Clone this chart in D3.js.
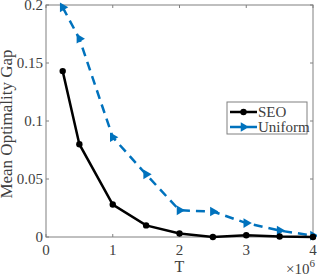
<!DOCTYPE html>
<html>
<head>
<meta charset="utf-8">
<script src="https://cdn.jsdelivr.net/npm/d3@7"></script>
<style>
  body { margin: 0; background: #fff; }
</style>
</head>
<body>
<div id="chart"></div>
<script>
var svgWidth = 317;
var svgHeight = 277;

var margin = { top: 5, right: 4, bottom: 40, left: 46 };
var width = svgWidth - margin.left - margin.right;
var height = svgHeight - margin.top - margin.bottom;

// data (T in units of 1e6)
var tValues = [0.25, 0.5, 1, 1.5, 2, 2.5, 3, 3.5, 4];
var seoGap = [0.143, 0.080, 0.028, 0.010, 0.003, 0.000, 0.0015, 0.0004, 0.000];
var uniformGap = [0.198, 0.171, 0.086, 0.054, 0.023, 0.022, 0.012, 0.0055, 0.0012];
var xTicks = [0, 1, 2, 3, 4];
var yTicks = [0, 0.05, 0.1, 0.15, 0.2];

var serif = "'Liberation Serif', serif";

var svg = d3.select("#chart")
  .append("svg")
  .attr("width", svgWidth)
  .attr("height", svgHeight);

var chartGroup = svg.append("g")
  .attr("transform", `translate(${margin.left}, ${margin.top})`);

var xScale = d3.scaleLinear().domain([0, 4]).range([0, width]);
var yScale = d3.scaleLinear().domain([0, 0.2]).range([height, 0]);

var axisColor = "#808080";
var textColor = "#404040";

// small helper so every label gets the serif face inline
function addText(parent, size) {
  return parent.append("text")
    .style("font-family", serif)
    .attr("font-size", size)
    .attr("fill", textColor);
}

// box
chartGroup.append("rect")
  .attr("width", width)
  .attr("height", height)
  .attr("fill", "none")
  .attr("stroke", axisColor)
  .attr("stroke-width", 1);

// ticks (inward) on all four sides
xTicks.forEach(function (t) {
  var x = xScale(t);
  chartGroup.append("line").attr("x1", x).attr("x2", x).attr("y1", height).attr("y2", height - 3).attr("stroke", axisColor);
  chartGroup.append("line").attr("x1", x).attr("x2", x).attr("y1", 0).attr("y2", 3).attr("stroke", axisColor);
  addText(chartGroup, 15)
    .attr("x", x)
    .attr("y", height + 18)
    .attr("text-anchor", "middle")
    .text(t);
});

yTicks.forEach(function (t) {
  var y = yScale(t);
  chartGroup.append("line").attr("x1", 0).attr("x2", 3).attr("y1", y).attr("y2", y).attr("stroke", axisColor);
  chartGroup.append("line").attr("x1", width).attr("x2", width - 3).attr("y1", y).attr("y2", y).attr("stroke", axisColor);
  addText(chartGroup, 15)
    .attr("x", -3)
    .attr("y", y + 5)
    .attr("text-anchor", "end")
    .text(t);
});

// axis labels
addText(chartGroup, 16)
  .attr("x", width / 2)
  .attr("y", height + 35)
  .attr("text-anchor", "middle")
  .text("T");

var expLabel = addText(chartGroup, 15)
  .attr("x", width + 2)
  .attr("y", height + 37)
  .attr("text-anchor", "end");
expLabel.append("tspan").text("×10");
expLabel.append("tspan").attr("dy", -7).attr("font-size", 11).text("6");

addText(chartGroup, 17)
  .attr("transform", `translate(${-34}, ${height / 2 + 3}) rotate(-90)`)
  .attr("text-anchor", "middle")
  .text("Mean Optimality Gap");

// lines
var blue = "#0072BD";

var gapLine = d3.line()
  .x(function (d, i) { return xScale(tValues[i]); })
  .y(function (d) { return yScale(d); });

chartGroup.append("path")
  .datum(uniformGap)
  .attr("d", gapLine)
  .attr("fill", "none")
  .attr("stroke", blue)
  .attr("stroke-width", 2.5)
  .attr("stroke-dasharray", "9,6");

var tri = d3.symbol().type(d3.symbolTriangle).size(40);
chartGroup.selectAll(".uni-marker")
  .data(uniformGap)
  .enter()
  .append("path")
  .attr("class", "uni-marker")
  .attr("d", tri)
  .attr("transform", function (d, i) { return `translate(${xScale(tValues[i])}, ${yScale(d)}) rotate(90)`; })
  .attr("fill", blue);

chartGroup.append("path")
  .datum(seoGap)
  .attr("d", gapLine)
  .attr("fill", "none")
  .attr("stroke", "#000")
  .attr("stroke-width", 2.5);

chartGroup.selectAll(".seo-marker")
  .data(seoGap)
  .enter()
  .append("circle")
  .attr("class", "seo-marker")
  .attr("cx", function (d, i) { return xScale(tValues[i]); })
  .attr("cy", function (d) { return yScale(d); })
  .attr("r", 3.2)
  .attr("fill", "#000");

// legend
var legend = svg.append("g").attr("transform", "translate(227, 102)");
legend.append("rect")
  .attr("width", 80)
  .attr("height", 32)
  .attr("fill", "#fff")
  .attr("stroke", axisColor);

legend.append("line").attr("x1", 3).attr("x2", 30).attr("y1", 10).attr("y2", 10)
  .attr("stroke", "#000").attr("stroke-width", 2.5);
legend.append("circle").attr("cx", 16.5).attr("cy", 10).attr("r", 3.2).attr("fill", "#000");
addText(legend, 15).attr("x", 31).attr("y", 15).text("SEO");

legend.append("line").attr("x1", 3).attr("x2", 30).attr("y1", 25).attr("y2", 25)
  .attr("stroke", blue).attr("stroke-width", 2.5).attr("stroke-dasharray", "13,4");
legend.append("path").attr("d", tri)
  .attr("transform", "translate(16.5, 25) rotate(90)")
  .attr("fill", blue);
addText(legend, 15).attr("x", 31).attr("y", 30).text("Uniform");
</script>
</body>
</html>
